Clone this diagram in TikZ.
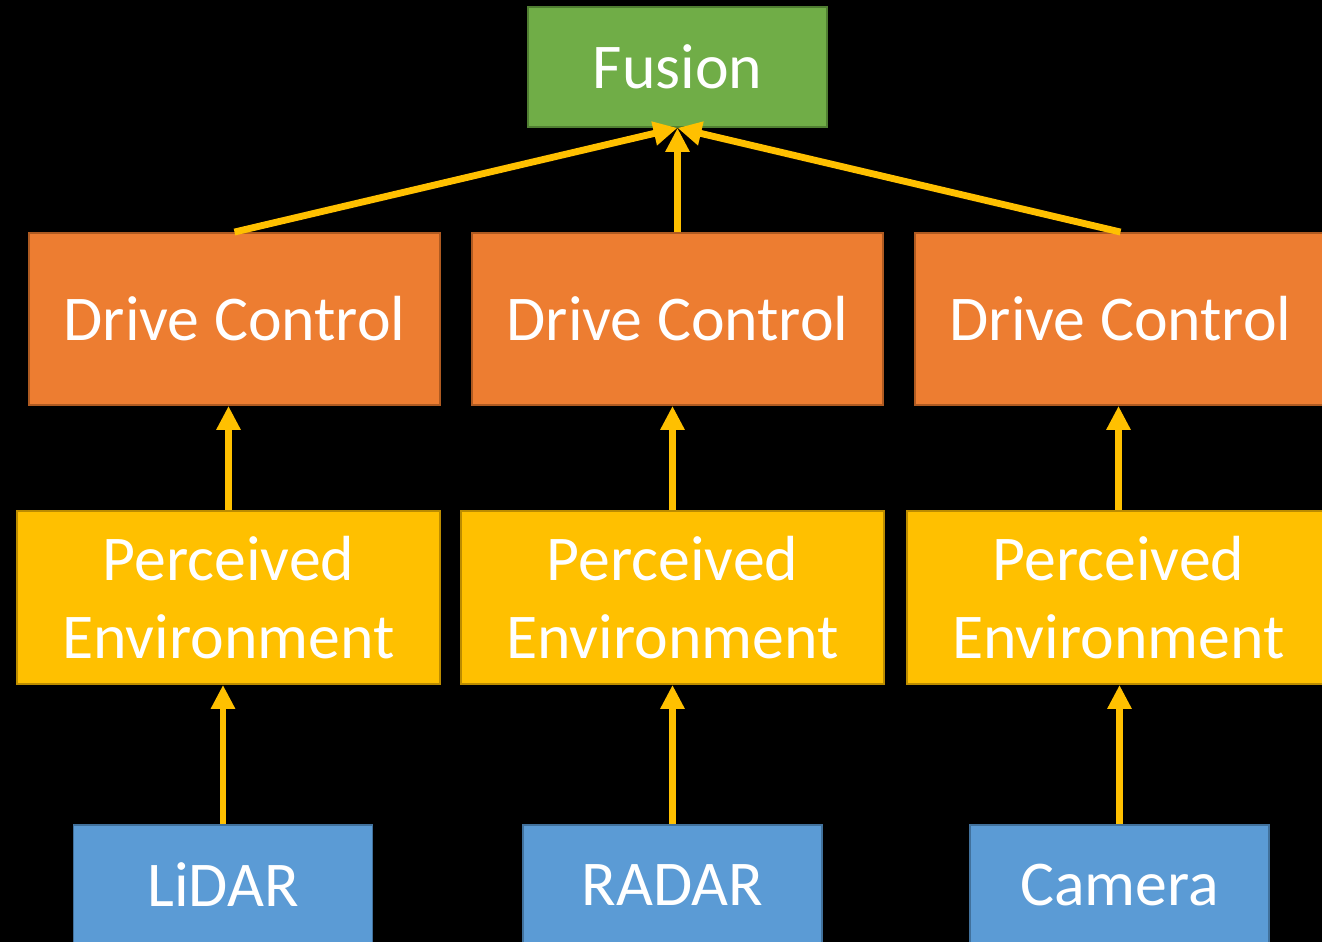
\documentclass[tikz,border=0pt]{standalone}
\usepackage{fontspec}
\setmainfont{Carlito}
\usetikzlibrary{arrows.meta}
\definecolor{fusegreen}{HTML}{70AD47}
\definecolor{fuseline}{HTML}{507E32}
\definecolor{driveorange}{HTML}{ED7D31}
\definecolor{driveline}{HTML}{AE5A21}
\definecolor{envyellow}{HTML}{FFC000}
\definecolor{envline}{HTML}{BC8C00}
\definecolor{sensorblue}{HTML}{5B9BD5}
\definecolor{sensorline}{HTML}{41719C}
\begin{document}
\begin{tikzpicture}[x=0.02cm, y=-0.02cm]
\tikzset{every node/.style={align=center, inner sep=0pt, text=white, line width=1.1pt,
  font=\fontsize{36.3}{44}\selectfont},
  fusebox/.style={fill=fusegreen, draw=fuseline, minimum width=5.98cm, minimum height=2.4cm},
  drivebox/.style={fill=driveorange, draw=driveline, minimum width=8.22cm, minimum height=3.44cm},
  envbox/.style={fill=envyellow, draw=envline, minimum width=8.46cm, minimum height=3.46cm},
  sensorbox/.style={fill=sensorblue, draw=sensorline, minimum width=5.98cm, minimum height=2.4cm},
  flow/.style={draw=envyellow, line width=3.9pt, -{Triangle[width=0.46cm, length=0.48cm]}}}

\useasboundingbox (0,0) rectangle (1322,942);
\fill[black] (0,0) rectangle (1322,942);

% top
\node[fusebox] (fusion) at (677.5,67) {Fusion};

% drive control row
\node[drivebox] (dcl) at (234.5,319) {Drive Control};
\node[drivebox] (dcm) at (677.5,319) {Drive Control};
\node[drivebox] (dcr) at (1120.5,319) {Drive Control};

% perceived environment row
\node[envbox] (pel) at (228.5,597.5) {Perceived\\Environment};
\node[envbox] (pem) at (672.5,597.5) {Perceived\\Environment};
\node[envbox] (per) at (1118.5,597.5) {Perceived\\Environment};

% sensors
\node[sensorbox] (lidar) at (223,885) {LiDAR};
\node[sensorbox] (radar) at (672.5,885) {RADAR};
\node[sensorbox] (camera) at (1119.5,885) {Camera};

\draw[flow] (lidar.north) -- (lidar.north |- pel.south);
\draw[flow] (radar.north) -- (radar.north |- pem.south);
\draw[flow] (camera.north) -- (camera.north |- per.south);

\draw[flow] (pel.north) -- (pel.north |- dcl.south);
\draw[flow] (pem.north) -- (pem.north |- dcm.south);
\draw[flow] (per.north) -- (per.north |- dcr.south);

\draw[flow] (dcl.north) -- (fusion.south);
\draw[flow] (dcm.north) -- (fusion.south);
\draw[flow] (dcr.north) -- (fusion.south);
\end{tikzpicture}
\end{document}
